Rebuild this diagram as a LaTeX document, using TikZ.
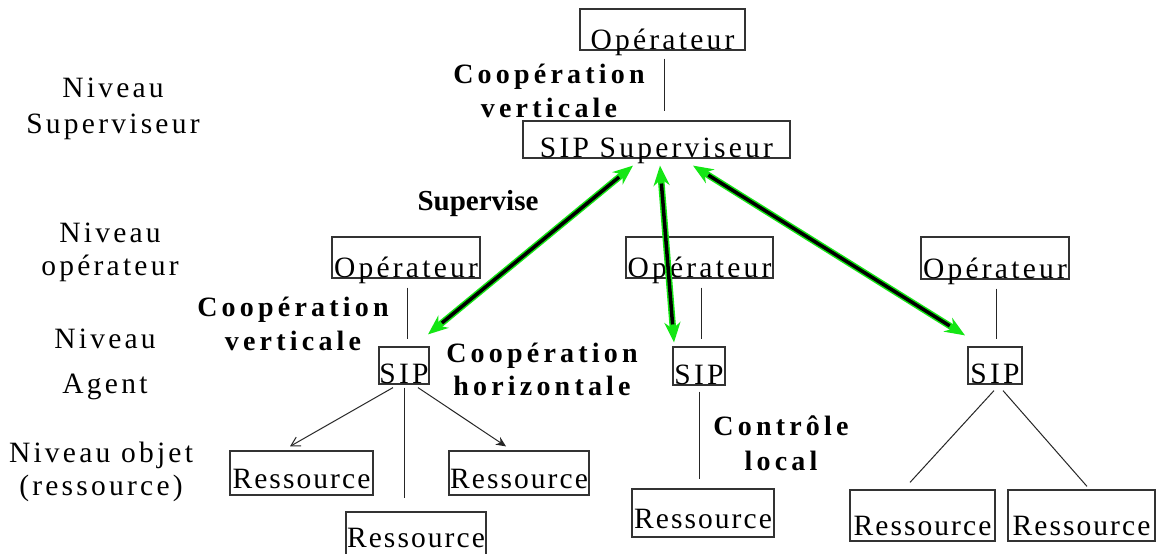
\documentclass[tikz,border=0pt]{standalone}
\usepackage{fontspec}
\setmainfont{Liberation Serif}
\newfontfamily\regf[LetterSpace=11]{Liberation Serif}
\newfontfamily\resf[LetterSpace=7]{Liberation Serif}
\newfontfamily\boldf[LetterSpace=15]{Liberation Serif}
\usetikzlibrary{arrows.meta}
\definecolor{brightgreen}{RGB}{20,230,20}
\tikzset{
  box/.style={draw=black!80, line width=1.2pt, inner xsep=0pt, inner ysep=0pt,
    text depth=1pt, font=\regf\fontsize{29.5}{34}\selectfont},
  resbox/.style={box, font=\resf\fontsize{29.5}{34}\selectfont},
  lvl/.style={align=center, inner sep=0pt, anchor=base, font=\regf\fontsize{29.5}{34}\selectfont},
  blbl/.style={align=center, inner sep=0pt, anchor=base, font=\boldf\bfseries\fontsize{28}{34}\selectfont},
  thin/.style={draw=black!85, line width=1pt},
  gline/.style={draw=brightgreen, line width=6.5pt, {Stealth[length=20pt,width=16pt]}-{Stealth[length=20pt,width=16pt]}},
  kline/.style={draw=black, line width=3.5pt, shorten <=18pt, shorten >=18pt},
}
\begin{document}
\begin{tikzpicture}[x=1pt, y=-1pt]
\useasboundingbox (0,0) rectangle (1159,554);
\clip (0,0) rectangle (1159,554);
\fill[white] (0,0) rectangle (1159,554);

% level labels (anchor = baseline of last line)
\node[lvl] (l1) at (113,133) {Niveau\\[2pt]Superviseur};
\node[lvl] (l2) at (110,275) {Niveau\\[-1pt]opérateur};
\node[lvl] (l3) at (105,393) {Niveau\\[11pt]Agent};
\node[lvl] (l4) at (101,495) {Niveau objet\\[-1pt](ressource)};

% boxes
\node[box, minimum width=165pt, text height=40pt] (opT) at (662.5,29.5) {Opérateur};
\node[box, minimum width=267pt, text height=36pt] (sipS) at (656.5,139.5) {SIP Superviseur};
\node[box, minimum width=148pt, text height=40pt] (opL) at (406,257.5) {Opérateur};
\node[box, minimum width=147pt, text height=40pt] (opM) at (699.5,257.5) {Opérateur};
\node[box, minimum width=148pt, text height=41pt] (opR) at (995,258) {Opérateur};
\node[box, minimum width=50pt, text height=36pt] (sipL) at (404,365.5) {SIP};
\node[box, minimum width=52pt, text height=37pt] (sipM) at (699,366) {SIP};
\node[box, minimum width=54pt, text height=36pt] (sipR) at (995,365.5) {SIP};
\node[resbox, minimum width=143pt, text height=37pt, text depth=7pt] (rL1) at (301.5,473) {Ressource};
\node[resbox, minimum width=140pt, text height=37pt, text depth=7pt] (rL2) at (519,473) {Ressource};
\node[resbox, minimum width=140pt, text height=35pt, text depth=11pt] (rL3) at (416,535) {Ressource};
\node[resbox, minimum width=142pt, text height=39pt, text depth=9pt] (rM) at (703,513) {Ressource};
\node[resbox, minimum width=145pt, text height=45pt, text depth=6pt] (rR1) at (922.5,515.5) {Ressource};
\node[resbox, minimum width=147pt, text height=45pt, text depth=6pt] (rR2) at (1081.5,515.5) {Ressource};

% bold labels (anchor = baseline of last line)
\node[blbl] (cvT) at (549,117) {Coopération\\[0pt]verticale};
\node[blbl] (cvL) at (293,350) {Coopération\\[0pt]verticale};
\node[blbl] (ch) at (542,395) {Coopération\\[-1pt]horizontale};
\node[blbl, font=\bfseries\fontsize{29}{34}\selectfont] (sup) at (478,210) {Supervise};
\node[blbl] (cl) at (781,470) {Contrôle\\[1pt]local};

% thin connectors
\draw[thin] ([xshift=1.5pt,yshift=-8pt]opT.south) -- ([xshift=7.5pt,yshift=9pt]sipS.north);
\draw[thin] ([xshift=1pt,yshift=-9pt]opL.south) -- ([xshift=3pt,yshift=7pt]sipL.north);
\draw[thin] ([xshift=1.5pt,yshift=-9pt]opM.south) -- ([xshift=2pt,yshift=7pt]sipM.north);
\draw[thin] ([xshift=1pt,yshift=-9pt]opR.south) -- ([xshift=1pt,yshift=7pt]sipR.north);
\draw[thin, -{Straight Barb[length=9pt,width=10pt]}] ([xshift=-11pt,yshift=-3pt]sipL.south) -- ([xshift=-11.5pt,yshift=4pt]rL1.north);
\draw[thin, -{Stealth[length=10pt,width=9pt]}] ([xshift=14pt,yshift=-3pt]sipL.south) -- ([xshift=-13pt,yshift=4pt]rL2.north);
\draw[thin] ([yshift=-3pt]sipL.south) -- ([xshift=-12pt,yshift=13pt]rL3.north);
\draw[thin] ([yshift=-6pt]sipM.south) -- ([xshift=-4pt,yshift=9pt]rM.north);
\draw[thin] ([xshift=-1pt,yshift=-6pt]sipR.south) -- ([xshift=-12.5pt,yshift=7pt]rR1.north);
\draw[thin] ([xshift=8pt,yshift=-6pt]sipR.south) -- ([xshift=5.5pt,yshift=3pt]rR2.north);

% supervision arrows
\draw[gline] ([xshift=-23.5pt,yshift=-7pt]sipS.south) -- ([xshift=24pt,yshift=12pt]sipL.north);
\draw[kline] ([xshift=-23.5pt,yshift=-7pt]sipS.south) -- ([xshift=24pt,yshift=12pt]sipL.north);
\draw[gline] ([xshift=3.5pt,yshift=-7pt]sipS.south) -- ([xshift=-25pt,yshift=4pt]sipM.north);
\draw[kline] ([xshift=3.5pt,yshift=-7pt]sipS.south) -- ([xshift=-25pt,yshift=4pt]sipM.north);
\draw[gline] ([xshift=36.5pt,yshift=-7pt]sipS.south) -- ([xshift=-30pt,yshift=11pt]sipR.north);
\draw[kline] ([xshift=36.5pt,yshift=-7pt]sipS.south) -- ([xshift=-30pt,yshift=11pt]sipR.north);
\end{tikzpicture}
\end{document}
